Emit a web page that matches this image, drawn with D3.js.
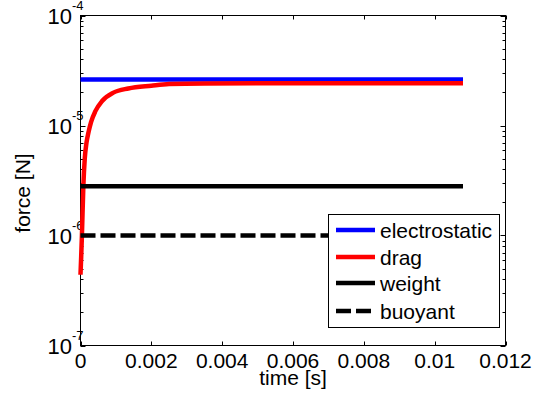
<!DOCTYPE html>
<html>
<head>
<meta charset="utf-8">
<script src="https://cdn.jsdelivr.net/npm/d3@7"></script>
<style>
  html, body { margin: 0; padding: 0; background: #fff; }
  svg { display: block; font-family: "Liberation Sans", Arial, sans-serif; }
</style>
</head>
<body>
<svg id="chart" width="541" height="394"></svg>
<script>
// ---- data ----
const seriesNames = ["electrostatic", "drag", "weight", "buoyant"];
const seriesColors = ["#0000ff", "#ff0000", "#000000", "#000000"];
const seriesDash = [null, null, null, "15,5"];

const constTime = [0, 0.0108];
const electrostaticValues = [2.62e-5, 2.62e-5];
const weightValues = [2.8e-6, 2.8e-6];
const buoyantValues = [1.0e-6, 1.0e-6];

const dragTime = [0, 0.00002, 0.00004, 0.00008, 0.00012, 0.00017, 0.00023, 0.0003, 0.00042, 0.00061, 0.00093, 0.00135, 0.002, 0.0025, 0.0035, 0.006, 0.0108];
const dragValues = [4.4e-7, 6.5e-7, 1.0e-6, 2.8e-6, 5.0e-6, 7.0e-6, 8.8e-6, 1.08e-5, 1.35e-5, 1.67e-5, 1.99e-5, 2.17e-5, 2.3e-5, 2.38e-5, 2.41e-5, 2.42e-5, 2.42e-5];

const xTicks = [0, 0.002, 0.004, 0.006, 0.008, 0.01, 0.012];
const xTickLabels = ["0", "0.002", "0.004", "0.006", "0.008", "0.01", "0.012"];
const yMajor = [1e-7, 1e-6, 1e-5, 1e-4];
const yExponents = ["-7", "-6", "-5", "-4"];
const xLabel = "time [s]";
const yLabel = "force [N]";

// ---- layout ----
const L = 80.5, R = 505.5, T = 15.5, B = 345.5;
const svg = d3.select("#chart");
const x = d3.scaleLinear().domain([0, 0.012]).range([L, R]);
const y = d3.scaleLog().domain([1e-7, 1e-4]).range([B, T]);

const yMinor = [];
for (let e = -7; e < -4; e++) for (let m = 2; m <= 9; m++) yMinor.push(m * Math.pow(10, e));

// frame
svg.append("rect").attr("x", L).attr("y", T).attr("width", R - L).attr("height", B - T)
  .attr("fill", "#fff").attr("stroke", "#000").attr("stroke-width", 1);

// x ticks bottom & top (inward)
const gx = svg.append("g").attr("stroke", "#000").attr("stroke-width", 1);
xTicks.forEach(t => {
  const px = Math.round(x(t)) + 0.5;
  gx.append("line").attr("x1", px).attr("x2", px).attr("y1", B).attr("y2", B - 4);
  gx.append("line").attr("x1", px).attr("x2", px).attr("y1", T).attr("y2", T + 4);
});
// y ticks left & right
yMajor.forEach(v => {
  const py = Math.round(y(v)) + 0.5;
  gx.append("line").attr("x1", L).attr("x2", L + 5).attr("y1", py).attr("y2", py);
  gx.append("line").attr("x1", R).attr("x2", R - 5).attr("y1", py).attr("y2", py);
});
yMinor.forEach(v => {
  const py = Math.round(y(v)) + 0.5;
  gx.append("line").attr("x1", L).attr("x2", L + 3).attr("y1", py).attr("y2", py);
  gx.append("line").attr("x1", R).attr("x2", R - 3).attr("y1", py).attr("y2", py);
});

// x tick labels
svg.append("g").selectAll("text").data(xTicks).join("text")
  .attr("x", d => x(d)).attr("y", 368)
  .attr("text-anchor", "middle").attr("font-size", 21)
  .text((d, i) => xTickLabels[i]);

// y tick labels
const gy = svg.append("g");
yMajor.forEach((v, i) => {
  const py = y(v);
  gy.append("text").attr("x", 72).attr("y", py + 8.5).attr("text-anchor", "end")
    .attr("font-size", 22).text("10");
  gy.append("text").attr("x", 72).attr("y", py - 5.5).attr("text-anchor", "start")
    .attr("font-size", 13).text(yExponents[i]);
});

// axis labels
svg.append("text").attr("x", x(0.006)).attr("y", 385).attr("text-anchor", "middle")
  .attr("font-size", 21).text(xLabel);
svg.append("text").attr("transform", "translate(30,193) rotate(-90)")
  .attr("text-anchor", "middle").attr("font-size", 21).text(yLabel);

// series
const line = d3.line().x(d => x(d[0])).y(d => y(d[1]));
const series = [
  d3.zip(constTime, electrostaticValues),
  d3.zip(dragTime, dragValues),
  d3.zip(constTime, weightValues),
  d3.zip(constTime, buoyantValues)
];
const plot = svg.append("g");
series.forEach((s, i) => {
  const ln = i === 1 ? d3.line().x(d => x(d[0])).y(d => y(d[1])).curve(d3.curveMonotoneX) : line;
  plot.append("path").attr("d", ln(s)).attr("fill", "none")
    .attr("stroke", seriesColors[i]).attr("stroke-width", 4.5)
    .attr("stroke-dasharray", seriesDash[i]);
});

// legend
const lg = svg.append("g");
lg.append("rect").attr("x", 328.5).attr("y", 214.5).attr("width", 171).attr("height", 113)
  .attr("fill", "#fff").attr("stroke", "#000").attr("stroke-width", 1);
const rowY = [230, 257, 283, 311];
seriesNames.forEach((n, i) => {
  lg.append("line").attr("x1", 336).attr("x2", 375).attr("y1", rowY[i]).attr("y2", rowY[i])
    .attr("stroke", seriesColors[i]).attr("stroke-width", 4.5)
    .attr("stroke-dasharray", seriesDash[i]);
  lg.append("text").attr("x", 380).attr("y", rowY[i] + 7.5).attr("font-size", 21).text(n);
});
</script>
</body>
</html>
